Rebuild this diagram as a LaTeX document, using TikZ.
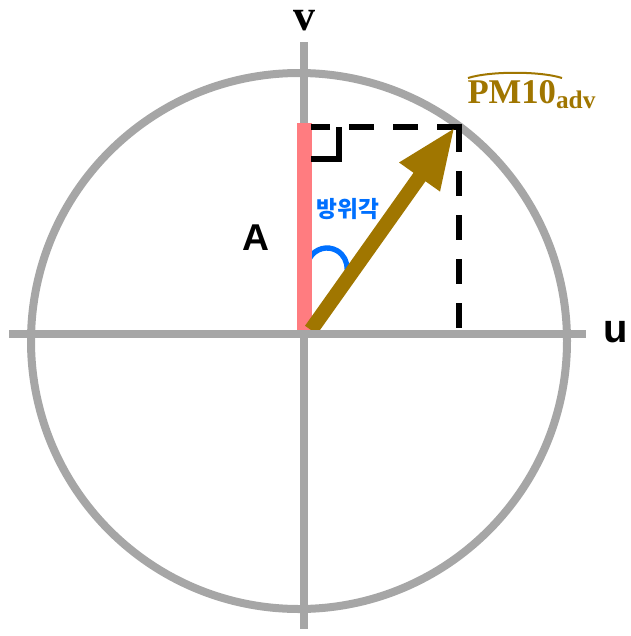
\documentclass[tikz,border=0pt]{standalone}
\usepackage{fontspec}
\setsansfont{Liberation Sans}
\newfontfamily\kofont{Noto Sans CJK KR}
\newfontfamily\labfont{Liberation Serif}
\usetikzlibrary{arrows.meta}

\definecolor{axisgray}{RGB}{166,166,166}
\definecolor{vecbrown}{RGB}{160,118,0}
\definecolor{barpink}{RGB}{255,124,128}
\definecolor{angblue}{RGB}{0,112,255}

\tikzset{every picture/.style={line width=0.75pt}}
\tikzset{
  axisline/.style={draw=axisgray, line width=6pt},
  guideline/.style={draw=black, line width=4.5pt, dash pattern={on 18.75pt off 14.25pt}},
  lbl/.style={inner sep=0pt}
}

\begin{document}
\begin{tikzpicture}[x=0.75pt,y=0.75pt,yscale=-1,xscale=1]
	\path[use as bounding box] (0,0) rectangle (631,636);

	%Shape: Circle
	\draw [axisline]  (299,341) circle (268) ;
	%Straight Lines (v axis)
	\draw [axisline]  (304,42) -- (304,629) ;

	%Arc (angle mark)
	\draw [angblue, line width=4pt]  (309.7,258) arc [start angle=-150, end angle=5, radius=20] ;
	%Straight Lines (A)
	\draw [barpink, line width=11.25pt]  (304.5,123) -- (304.5,331) ;

	\coordinate (O) at (311,330);
	\coordinate (P) at (455,127);
	\coordinate (Pu) at (459,127);
	\coordinate (Pv) at (462,127);
	\coordinate (Pb) at (459,330);
	\coordinate (Pl) at (311,127);

	%Straight Lines (dashed)
	\draw [guideline]  (Pu) -- (Pb) ;
	\draw [guideline]  (Pv) -- (Pl) ;
	%Right angle
	\draw [line width=4.5pt]  (311,159) -- (339,159) -- (339,127) ;

	%Vector
	\draw [vecbrown, line width=11pt, -{Triangle[length=46pt,width=34pt]}]  (O) -- (P) ;

	%Straight Lines (u axis)
	\draw [axisline]  (9,334) -- (586,334) ;

	%Curve Lines (hat)
	\draw [vecbrown, line width=1.5pt]  (468,78) .. controls (490,71) and (540,71) .. (562,78) ;

	% Text Node
	\node [lbl, anchor=base] (vlab) at (304,30) {\fontsize{33}{33}\selectfont\labfont\bfseries v};
	% Text Node
	\node [lbl] (ulab) at (616,332) {\fontsize{30}{30}\selectfont\sffamily\bfseries u};
	% Text Node
	\node [lbl] (alab) at (256,238) {\fontsize{28}{28}\selectfont\sffamily\bfseries A};
	% Text Node
	\node [lbl, text=angblue] (anglab) at (348,209) {\fontsize{17}{17}\selectfont\kofont\bfseries 방위각};
	% Text Node
	\node [lbl, anchor=base west, text=vecbrown] (pmlab) at (467,103) {\labfont\bfseries\fontsize{26}{26}\selectfont PM10\raisebox{-4pt}{\fontsize{19}{19}\selectfont adv}};

\end{tikzpicture}
\end{document}
